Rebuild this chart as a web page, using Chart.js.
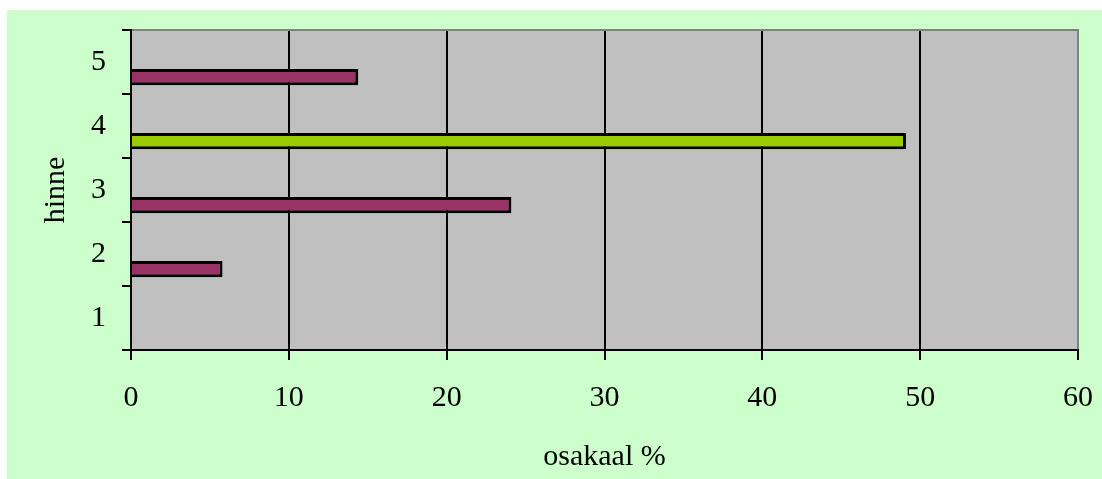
<!DOCTYPE html>
<html>
<head>
<meta charset="utf-8">
<script src="https://cdn.jsdelivr.net/npm/chart.js@4"></script>
<style>
  body { margin: 0; background: #fff; }
  #wrap { position: absolute; left: 7px; top: 10px; }
</style>
</head>
<body>
<div id="wrap"><canvas id="gradeChart" width="1095" height="469"></canvas></div>
<script>
// hinne (grade) vs osakaal % (share)
var grades = ['1', '2', '3', '4', '5'];
var shares = [0, 5.8, 24.1, 49.1, 14.4];
var barColors = ['#993366', '#993366', '#993366', '#99CC00', '#993366'];
var xTicks = [0, 10, 20, 30, 40, 50, 60];

var serif = "'Liberation Serif', 'Times New Roman', serif";

var plotBg = {
    id: 'plotBg',
    beforeDraw: function(chart) {
        var c = chart.ctx, a = chart.chartArea;
        c.save();
        c.fillStyle = '#CCFFCC';
        c.fillRect(0, 0, chart.width, chart.height);
        c.fillStyle = '#C0C0C0';
        c.fillRect(a.left, a.top, a.right - a.left, a.bottom - a.top);
        c.restore();
    },
    afterDraw: function(chart) {
        var c = chart.ctx, a = chart.chartArea;
        c.save();
        c.strokeStyle = '#808080';
        c.lineWidth = 2;
        c.beginPath();
        c.moveTo(a.left + 1, a.top);
        c.lineTo(a.right, a.top);
        c.lineTo(a.right, a.bottom - 1);
        c.stroke();
        c.restore();
    }
};

// keep the plot box where the layout padding puts it
function noEdgePadding(scale) {
    scale.paddingTop = 0;
    scale.paddingBottom = 0;
    scale.paddingLeft = 0;
    scale.paddingRight = 0;
}

document.addEventListener("DOMContentLoaded", function() {
    var ctx = document.getElementById('gradeChart').getContext('2d');

    new Chart(ctx, {
        type: 'bar',
        data: {
            labels: grades,
            datasets: [{
                // empty slot so the bars sit in the lower half of each band
                label: '',
                data: grades.map(function() { return null; })
            }, {
                label: 'osakaal %',
                data: shares,
                backgroundColor: barColors,
                borderColor: '#000',
                borderWidth: 3,
                borderSkipped: 'start'
            }]
        },
        options: {
            indexAxis: 'y',
            responsive: false,
            animation: false,
            categoryPercentage: 0.94,
            barPercentage: 0.54,
            layout: { padding: { top: 20, right: 24, left: 0, bottom: 0 } },
            plugins: {
                legend: { display: false },
                tooltip: { enabled: false }
            },
            scales: {
                x: {
                    min: 0,
                    max: 60,
                    afterBuildTicks: function(scale) {
                        scale.ticks = xTicks.map(function(v) { return { value: v }; });
                    },
                    afterFit: function(scale) {
                        scale.height = 129;
                        noEdgePadding(scale);
                    },
                    border: { color: '#000', width: 2 },
                    grid: {
                        color: function(c) { return c.tick && c.tick.value === 60 ? '#808080' : '#000'; },
                        lineWidth: 2,
                        tickLength: 10,
                        tickColor: '#000',
                        tickWidth: 2
                    },
                    ticks: {
                        color: '#000',
                        padding: 20,
                        font: { family: serif, size: 30 }
                    },
                    title: {
                        display: true,
                        text: 'osakaal %',
                        color: '#000',
                        padding: { top: 0, bottom: 4 },
                        font: { family: serif, size: 30 }
                    }
                },
                y: {
                    reverse: true,
                    afterFit: function(scale) {
                        scale.width = 124;
                        noEdgePadding(scale);
                    },
                    border: { color: '#000', width: 2 },
                    grid: {
                        offset: true,
                        drawOnChartArea: false,
                        color: '#000',
                        lineWidth: 2,
                        tickLength: 9
                    },
                    ticks: {
                        color: '#000',
                        padding: 16,
                        font: { family: serif, size: 30 }
                    },
                    title: {
                        display: true,
                        text: 'hinne',
                        color: '#000',
                        padding: { top: 31, bottom: 0 },
                        font: { family: serif, size: 30 }
                    }
                }
            }
        },
        plugins: [plotBg]
    });
});
</script>
</body>
</html>
